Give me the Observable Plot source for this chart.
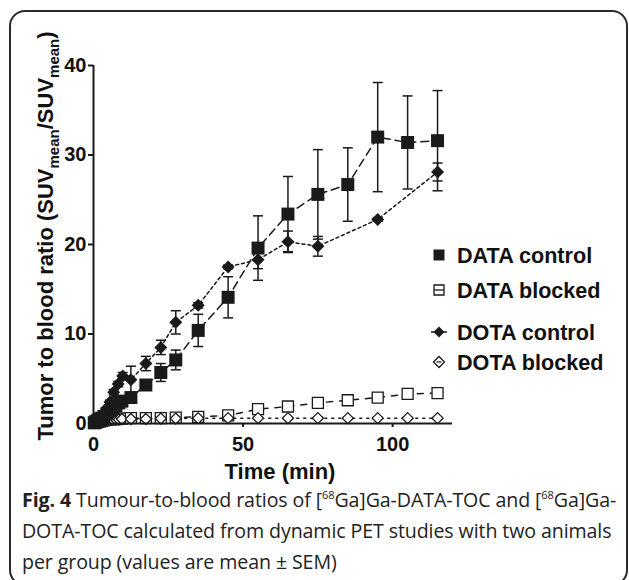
<!DOCTYPE html>
<html><head><meta charset="utf-8">
<script src="https://cdn.jsdelivr.net/npm/d3@7"></script>
<script src="https://cdn.jsdelivr.net/npm/@observablehq/plot@0.6"></script>
<style>
body{margin:0;background:#fff;width:629px;height:580px;overflow:hidden;position:relative}
#frame{position:absolute;left:9px;top:10px;width:619px;height:576px;border:2px solid #2a2a2a;border-radius:16px;box-sizing:border-box}
#chart{position:absolute;left:0;top:0}
#chart svg text{font-weight:bold;fill:#111}
#caption{position:absolute;left:22px;top:484px;font-family:"Open Sans",sans-serif;font-size:19.6px;line-height:31px;color:#222;white-space:nowrap;letter-spacing:-0.1px}
#caption sup{font-size:11px;vertical-align:8px;line-height:0}
</style></head><body>
<div id="frame"></div>
<div id="chart"></div>
<div id="caption"><b>Fig. 4</b> Tumour-to-blood ratios of [<sup>68</sup>Ga]Ga-DATA-TOC and [<sup>68</sup>Ga]Ga-<br>DOTA-TOC calculated from dynamic PET studies with two animals<br>per group (values are mean ± SEM)</div>
<script>
// ---- data (minutes, tumour-to-blood ratio, SEM) ----
const tData = [0.25,0.75,1.25,1.75,2.25,2.75,3.5,4.5,5.5,6.5,7.5,8.5,9.5,12.5,17.5,22.5,27.5,35,45,55,65,75,85,95,105,115];
const dataControl    = [0.1,0.2,0.3,0.4,0.5,0.6,0.8,1.1,1.4,1.7,2.0,2.3,2.5,2.9,4.3,5.7,7.1,10.4,14.1,19.6,23.4,25.6,26.7,32.0,31.4,31.6];
const dataControlSem = [0,0,0,0,0,0,0.1,0.1,0.1,0.2,0.2,0.2,0.3,0.3,0.5,1.0,1.1,1.8,2.3,3.6,4.2,5.0,4.1,6.1,5.2,5.6];
const dataBlocked    = [0.05,0.1,0.15,0.2,0.25,0.3,0.35,0.4,0.45,0.5,0.5,0.55,0.55,0.6,0.6,0.6,0.65,0.75,0.9,1.6,1.9,2.3,2.6,2.9,3.3,3.4];
const dataBlockedSem = [0,0,0,0,0,0,0,0,0,0,0,0,0,0.1,0.1,0.1,0.1,0.1,0.1,0.2,0.2,0.2,0.2,0.2,0.2,0.2];

const tDotaControl = [0.25,0.75,1.25,1.75,2.25,2.75,3.5,4.5,5.5,6.75,8.25,9.75,12.5,17.5,22.5,27.5,35,45,55,65,75,95,115];
const dotaControl    = [0.1,0.25,0.4,0.55,0.7,0.85,1.2,1.7,2.4,3.5,4.4,5.3,4.9,6.7,8.5,11.3,13.2,17.5,18.3,20.3,19.8,22.8,28.1];
const dotaControlSem = [0,0,0,0,0,0,0.1,0.1,0.2,0.3,0.3,0.4,1.5,0.8,0.8,1.3,0.3,0.2,1.0,1.2,1.1,0.2,1.0];

const tDotaBlocked = tData;
const dotaBlocked    = [0.05,0.1,0.15,0.2,0.25,0.3,0.3,0.35,0.4,0.4,0.45,0.45,0.5,0.5,0.5,0.55,0.55,0.6,0.6,0.6,0.6,0.6,0.6,0.6,0.6,0.6];
const dotaBlockedSem = [0,0,0,0,0,0,0,0,0,0,0,0,0,0.1,0.1,0.1,0.1,0.1,0.1,0.1,0.1,0.1,0.1,0.1,0.1,0.1];

const seriesNames = ["DATA control","DATA blocked","DOTA control","DOTA blocked"];
const xTicks = [0,50,100];
const yTicks = [0,10,20,30,40];

const rows = (t, v, e) => t.map((d, i) => ({t: d, v: v[i], e: e[i]}));
const sDC = rows(tData, dataControl, dataControlSem);
const sDB = rows(tData, dataBlocked, dataBlockedSem);
const sOC = rows(tDotaControl, dotaControl, dotaControlSem);
const sOB = rows(tDotaBlocked, dotaBlocked, dotaBlockedSem);

// custom symbols (size = pi r^2 in Plot)
const rr = s => Math.sqrt(s / Math.PI);
const sqSym = {draw(c, s){const r = rr(s); c.rect(-r, -r, 2*r, 2*r);}};
const diaSym = {draw(c, s){const r = rr(s); c.moveTo(0,-r); c.lineTo(r,0); c.lineTo(0,r); c.lineTo(-r,0); c.closePath();}};
const capSym = {draw(c, s){const r = rr(s); c.moveTo(-r,0); c.lineTo(r,0);}};

const ink = "#1a1a1a";
function errMarks(data){
  const d = data.filter(p => p.e > 0);
  return [
    Plot.ruleX(d, {x:"t", y1: p => p.v - p.e, y2: p => p.v + p.e, stroke: ink, strokeWidth: 1.5}),
    Plot.dot(d, {x:"t", y: p => p.v + p.e, symbol: capSym, r: 5, stroke: ink, strokeWidth: 1.5}),
    Plot.dot(d, {x:"t", y: p => p.v - p.e, symbol: capSym, r: 5, stroke: ink, strokeWidth: 1.5})
  ];
}

const plot = Plot.plot({
  width: 629, height: 485,
  marginLeft: 93, marginRight: 177, marginTop: 65, marginBottom: 62,
  x: {domain: [0, 120]},
  y: {domain: [0, 40]},
  style: {fontFamily: "'Liberation Sans', Arial, sans-serif", background: "transparent", overflow: "visible"},
  marks: [
    // blocked series
    Plot.line(sDB, {x:"t", y:"v", stroke: ink, strokeWidth: 1.5, strokeDasharray: "6,7"}),
    Plot.line(sOB, {x:"t", y:"v", stroke: ink, strokeWidth: 1.5, strokeDasharray: "2,5"}),
    ...errMarks(sDB), ...errMarks(sOB),
    Plot.dot(sDB, {x:"t", y:"v", symbol: sqSym, r: 5.5, fill: "white", stroke: ink, strokeWidth: 1.3}),
    Plot.dot(sOB, {x:"t", y:"v", symbol: diaSym, r: 5.5, fill: "white", stroke: ink, strokeWidth: 1.3}),
    // control series
    Plot.line(sDC, {x:"t", y:"v", stroke: ink, strokeWidth: 1.5, strokeDasharray: "8,5"}),
    Plot.line(sOC, {x:"t", y:"v", stroke: ink, strokeWidth: 1.5, strokeDasharray: "3,3"}),
    ...errMarks(sDC), ...errMarks(sOC),
    Plot.dot(sDC, {x:"t", y:"v", symbol: sqSym, r: 6.5, fill: ink, stroke: "none"}),
    Plot.dot(sOC, {x:"t", y:"v", symbol: diaSym, r: 6.5, fill: ink, stroke: "none"}),
    // axes
    Plot.ruleX([0], {y1: 0, y2: 40, stroke: ink, strokeWidth: 2}),
    Plot.ruleY([0], {x1: 0, x2: 120, stroke: ink, strokeWidth: 2}),
    Plot.axisY({ticks: yTicks, tickSize: 5, tickPadding: 2, fontSize: 20, label: null, strokeWidth: 2, stroke: ink}),
    Plot.axisX({ticks: xTicks, tickSize: 4, tickPadding: 9, fontSize: 20, label: null, strokeWidth: 2, stroke: ink})
  ]
});
document.getElementById("chart").appendChild(plot);

const svg = d3.select(plot);
const font = "'Liberation Sans', Arial, sans-serif";
// y-axis title with subscripts
const yl = svg.append("text")
  .attr("transform", "translate(53,236) rotate(-90)")
  .attr("text-anchor", "middle").attr("font-size", 22).attr("font-family", font);
yl.append("tspan").text("Tumor to blood ratio (SUV");
yl.append("tspan").attr("dy", 6).attr("font-size", 15).text("mean");
yl.append("tspan").attr("dy", -6).text("/SUV");
yl.append("tspan").attr("dy", 6).attr("font-size", 15).text("mean");
yl.append("tspan").attr("dy", -6).text(")");
// x-axis title
svg.append("text").attr("x", 280).attr("y", 479).attr("text-anchor", "middle")
  .attr("font-size", 22).attr("font-family", font).text("Time (min)");

// legend
const legY = [255, 290, 332, 362];
const lx = 439;
const sym = (s, r) => { const p = d3.path(); s.draw(p, Math.PI * r * r); return p.toString(); };
seriesNames.forEach((name, i) => {
  const g = svg.append("g").attr("transform", `translate(${lx},${legY[i]})`);
  if (i === 0) g.append("path").attr("d", sym(sqSym, 5.5)).attr("fill", ink);
  if (i === 1) {
    g.append("path").attr("d", sym(sqSym, 5)).attr("fill", "white").attr("stroke", ink).attr("stroke-width", 1.3);
    g.append("path").attr("d", "M-5,0H5").attr("stroke", ink).attr("stroke-width", 1.3);
  }
  if (i === 2) {
    g.append("path").attr("d", "M-8,0H8").attr("stroke", ink).attr("stroke-width", 1.5);
    g.append("path").attr("d", sym(diaSym, 5.5)).attr("fill", ink);
  }
  if (i === 3) {
    g.append("path").attr("d", sym(diaSym, 5.5)).attr("fill", "white").attr("stroke", ink).attr("stroke-width", 1.3);
    g.append("path").attr("d", "M-2.5,0H2.5").attr("stroke", ink).attr("stroke-width", 1.2);
  }
  g.append("text").attr("x", 18).attr("y", 7.7).attr("text-anchor", "start")
    .attr("font-size", 21.6).attr("font-family", font).text(name);
});
</script>
</body></html>
